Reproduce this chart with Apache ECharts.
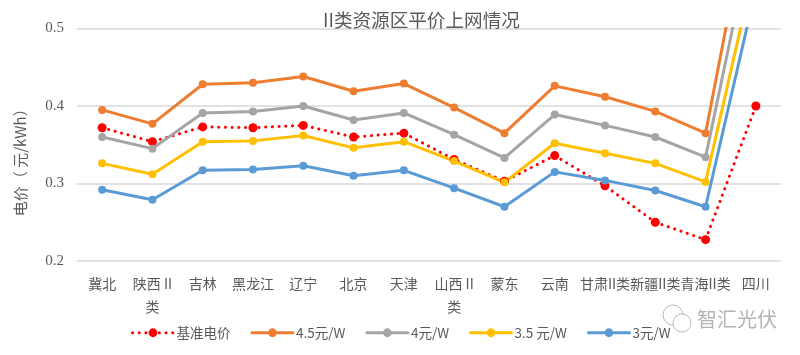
<!DOCTYPE html>
<html>
<head>
<meta charset="utf-8">
<style>
    html, body { margin: 0; padding: 0; background: #fff; }
    #chart { width: 800px; height: 355px; }
</style>
<script src="https://cdn.jsdelivr.net/npm/echarts@6/dist/echarts.min.js"></script>
</head>
<body>
<div id="chart"></div>
<script>
var categories = ['冀北', '陕西 II\n类', '吉林', '黑龙江', '辽宁', '北京', '天津', '山西 II\n类', '蒙东', '云南', '甘肃II类', '新疆II类', '青海II类', '四川'];
var yTicks = [0.2, 0.3, 0.4, 0.5];

var baseline = [0.372, 0.354, 0.373, 0.372, 0.375, 0.360, 0.365, 0.331, 0.303, 0.336, 0.297, 0.250, 0.2275, 0.400];
var w45 = [0.395, 0.377, 0.428, 0.430, 0.438, 0.419, 0.429, 0.398, 0.365, 0.426, 0.412, 0.393, 0.365, 0.700];
var w40 = [0.360, 0.345, 0.391, 0.393, 0.400, 0.382, 0.391, 0.363, 0.333, 0.389, 0.375, 0.360, 0.334, 0.643];
var w35 = [0.326, 0.312, 0.354, 0.355, 0.362, 0.346, 0.354, 0.329, 0.3015, 0.352, 0.339, 0.326, 0.302, 0.587];
var w30 = [0.292, 0.279, 0.317, 0.318, 0.323, 0.310, 0.317, 0.294, 0.270, 0.315, 0.304, 0.291, 0.270, 0.551];

var textColor = '#595959';
var cjkFont = '"Noto Sans CJK SC", sans-serif';

var chart = echarts.init(document.getElementById('chart'));

function lineSeries(name, data, color) {
    return {
        name: name,
        type: 'line',
        data: data,
        clip: true,
        symbol: 'circle',
        symbolSize: 8,
        lineStyle: { color: color, width: 3, cap: 'round' },
        itemStyle: { color: color }
    };
}

var baseSeries = lineSeries('基准电价', baseline, '#FF0000');
baseSeries.symbolSize = 9;
baseSeries.lineStyle = { color: '#FF0000', width: 3, type: [0.1, 6.6], cap: 'round' };

var option = {
    animation: false,
    backgroundColor: '#fff',
    title: {
        text: 'II类资源区平价上网情况',
        left: 323,
        top: 11,
        textStyle: { color: textColor, fontFamily: cjkFont, fontSize: 18.6, fontWeight: 'normal' },
        padding: 0
    },
    grid: { left: 77, right: 19, top: 28.5, bottom: 94, outerBoundsMode: 'none' },
    legend: {
        left: 126,
        top: 321,
        itemWidth: 41,
        itemHeight: 11,
        itemGap: 20,
        lineStyle: { width: 3 },
        textStyle: { color: textColor, fontFamily: cjkFont, fontSize: 13.5, padding: [0, 0, 0, -2] },
        data: ['基准电价', '4.5元/W', '4元/W', '3.5 元/W', '3元/W']
    },
    xAxis: {
        type: 'category',
        data: categories,
        axisLine: { show: false },
        axisTick: { show: false },
        axisLabel: {
            interval: 0,
            margin: 11,
            lineHeight: 23,
            verticalAlign: 'top',
            color: textColor,
            fontFamily: cjkFont,
            fontSize: 14
        }
    },
    yAxis: {
        type: 'value',
        min: yTicks[0],
        max: yTicks[yTicks.length - 1],
        interval: 0.1,
        name: '电价（ 元/kWh）',
        nameLocation: 'middle',
        nameGap: 49,
        nameTextStyle: { color: textColor, fontFamily: cjkFont, fontSize: 15, padding: [0, 28, 0, 0] },
        axisLine: { show: false },
        axisTick: { show: false },
        axisLabel: {
            margin: 13,
            color: textColor,
            fontFamily: '"Liberation Serif", serif',
            fontSize: 15,
            formatter: function (v) { return v.toFixed(1); }
        },
        splitLine: { lineStyle: { color: '#D9D9D9', width: 1.5 } }
    },
    series: [
        baseSeries,
        lineSeries('4.5元/W', w45, '#ED7D31'),
        lineSeries('4元/W', w40, '#A5A5A5'),
        lineSeries('3.5 元/W', w35, '#FFC000'),
        lineSeries('3元/W', w30, '#5B9BD5')
    ],
    // 水印
    graphic: [
        { type: 'text', left: 697, top: 309, z: 10, style: { text: '智汇光伏', fill: '#b4b4b4', font: '20px "Noto Sans CJK SC"' } },
        { type: 'circle', shape: { cx: 673, cy: 315, r: 10 }, z: 10, style: { fill: '#fff', stroke: '#bbb', lineWidth: 1 } },
        { type: 'circle', shape: { cx: 682, cy: 323, r: 9 }, z: 10, style: { fill: '#fff', stroke: '#bbb', lineWidth: 1 } }
    ]
};
chart.setOption(option);
</script>
</body>
</html>
